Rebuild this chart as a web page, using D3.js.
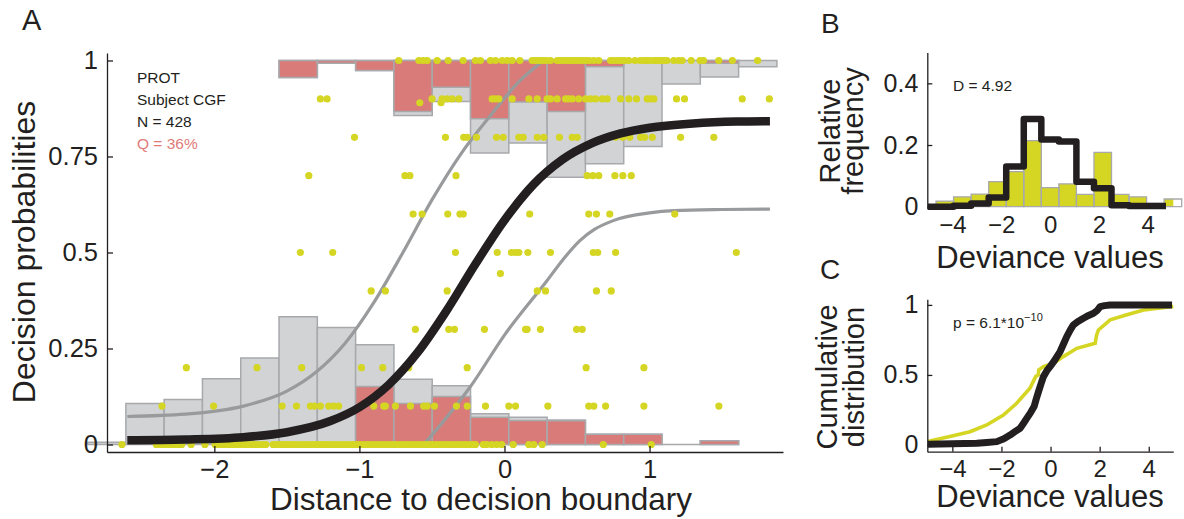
<!DOCTYPE html>
<html>
<head>
<meta charset="utf-8">
<script src="https://cdn.jsdelivr.net/npm/d3@7"></script>
<style>
  body { margin: 0; background: #fff; }
  svg { display: block; }
  text { font-family: "Liberation Sans", Arial, Helvetica, sans-serif; fill: #231f20; }
</style>
</head>
<body>
<svg id="fig" width="1184" height="519"></svg>
<script>
// ---------------- Panel A: decision probabilities ----------------
// histogram bin edges (distance to boundary)
const binEdges = [-2.874, -2.61, -2.346, -2.082, -1.818, -1.554, -1.29, -1.026, -0.762,
                  -0.498, -0.234, 0.03, 0.294, 0.558, 0.822, 1.086, 1.35, 1.614, 1.878];
// bars rising from 0 (grey = all trials, red = subset)
const bottomTotal = [0.006, 0.107, 0.117, 0.171, 0.225, 0.333, 0.305, 0.26, 0.17, 0.153,
                     0.08, 0.071, 0.064, 0.027, 0.027, 0, 0.01, null];
const bottomRed   = [0, 0, 0, 0, 0, 0, 0, 0.151, 0.107, 0.125, 0.071, 0.0625, 0.062, 0.027,
                     0.027, 0, 0.01, 0];
// bars hanging from 1 (depth below 1)
const topTotal = [0, 0, 0, 0, 0, 0.044, 0.007, 0.026, 0.143, 0.107, 0.241, 0.215, 0.304,
                  0.269, 0.224, 0.061, 0.043, 0.016];
const topRed   = [0, 0, 0, 0, 0, 0.044, 0.007, 0.026, 0.133, 0.07, 0.152, 0.108, 0.133,
                  0.016, 0, 0, 0.007, 0];

// fitted psychometric curves
const fitX = [-2.6, -2.2, -1.8, -1.5, -1.2, -1.0, -0.8, -0.6, -0.4, -0.2, 0, 0.2, 0.4, 0.6,
              0.8, 1.0, 1.3, 1.6, 1.83];
const fitY = [0.011, 0.013, 0.019, 0.032, 0.061, 0.097, 0.155, 0.239, 0.348, 0.47, 0.584,
              0.677, 0.742, 0.784, 0.81, 0.825, 0.836, 0.841, 0.842];
const upperX = [-2.6, -2.2, -1.8, -1.5, -1.3, -1.1, -0.9, -0.7, -0.5, -0.3, -0.1, 0.1, 0.27];
const upperY = [0.073, 0.079, 0.1, 0.139, 0.188, 0.263, 0.37, 0.5, 0.637, 0.757, 0.855,
                0.945, 1.0];
const lowerX = [-0.556, -0.4, -0.238, 0.0, 0.294, 0.4, 0.52, 0.62, 0.75, 1.0, 1.167, 1.5, 1.83];
const lowerY = [0.0, 0.07, 0.149, 0.285, 0.427, 0.48, 0.531, 0.56, 0.583, 0.603, 0.609,
                0.612, 0.613];

// individual observations, grouped by response level
const dots0 = [-2.637, -2.4, -2.375, -2.35, -2.325, -2.3, -2.275, -2.25, -2.225, -2.16, -2.065,
  -1.995, -1.97, -1.945, -1.92, -1.895, -1.87, -1.845, -1.82, -1.795, -1.77, -1.745, -1.72,
  -1.695, -1.67, -1.645, -1.595, -1.57, -1.545, -1.52, -1.495, -1.47, -1.445, -1.42, -1.395,
  -1.37, -1.345, -1.32, -1.295, -1.27, -1.245, -1.22, -1.195, -1.17, -1.145, -1.12, -1.095,
  -1.07, -1.045, -1.02, -0.995, -0.97, -0.945, -0.92, -0.895, -0.87, -0.845, -0.82, -0.795,
  -0.77, -0.745, -0.72, -0.695, -0.67, -0.645, -0.62, -0.595, -0.57, -0.545, -0.52, -0.495,
  -0.47, -0.445, -0.42, -0.395, -0.37, -0.345, -0.32, -0.295, -0.27, -0.245, -0.22, -0.2,
  -0.146, -0.123, -0.088, -0.054, -0.019, 0.06, 0.168, 0.202, 0.26, 0.681, 1.012];
const dots10 = [-2.361, -2.005, -1.533, -1.434, -1.338, -1.31, -1.269, -1.212, -1.177, -1.143,
  -0.993, -0.901, -0.832, -0.821, -0.752, -0.648, -0.557, -0.533, -0.483, -0.331, -0.257,
  -0.131, 0.03, 0.076, 0.299, 0.581, 0.616, 0.697, 0.961, 1.478];
const dots20 = [-2.193, -1.706, -1.398, -0.986, -0.839, -0.66, -0.257, 0.563, 0.961];
const dots30 = [-0.614, -0.384, -0.345, -0.138, 0.145, 0.156, 0.248, 0.497, 0.536];
const dots40 = [-0.919, -0.821, -0.395, 0.226, 0.283, 0.634, 0.736];
const dots44 = [-0.028];
const dots50 = [-1.407, -1.184, -0.338, -0.05, 0.048, 0.076, 0.099, 0.161, 0.317, 0.612,
  0.643, 0.766, 1.598];
const dots60 = [-0.63, -0.568, -0.391, -0.307, -0.284, 0.174, 0.581, 0.634, 0.726, 1.174];
const dots70 = [-1.349, -0.686, -0.652, -0.334, 0.57, 0.609, 0.65, 0.761, 0.816, 0.874];
const dots80 = [-1.034, -0.407, -0.281, -0.257, -0.193, -0.055, -0.009, 0.099, 0.129, 0.226,
  0.271, 0.379, 0.467, 0.501, 0.766, 0.816, 0.864, 0.938, 0.966, 1.019, 1.214, 1.443];
const dots89 = [-0.584, -0.437];
const dots90 = [-1.269, -1.223, -0.499, -0.43, -0.395, -0.361, -0.315, -0.085, -0.062, -0.039,
  0.053, 0.168, 0.226, 0.294, 0.317, 0.363, 0.421, 0.441, 0.467, 0.512, 0.559, 0.593, 0.628,
  0.674, 0.708, 0.8, 0.857, 0.91, 0.984, 1.007, 1.03, 1.186, 1.241, 1.639, 1.826];
const dots100 = [-0.729, -0.59, -0.561, -0.533, -0.464, -0.388, -0.285, -0.2, -0.166, -0.097,
  -0.062, -0.016, 0.019, 0.053, 0.106, 0.191, 0.21, 0.23, 0.25, 0.27, 0.29, 0.317, 0.363,
  0.38, 0.4, 0.42, 0.44, 0.455, 0.47, 0.49, 0.51, 0.524, 0.547, 0.565, 0.585, 0.616, 0.65,
  0.731, 0.75, 0.77, 0.79, 0.81, 0.83, 0.857, 0.9, 0.935, 0.96, 0.98, 1.0, 1.028, 1.045,
  1.062, 1.08, 1.1, 1.12, 1.167, 1.2, 1.225, 1.287, 1.348, 1.372, 1.477, 1.571, 1.745];
const dotGroups = [[0, dots0], [0.1, dots10], [0.2, dots20], [0.3, dots30], [0.4, dots40],
  [0.445, dots44], [0.5, dots50], [0.6, dots60], [0.7, dots70], [0.8, dots80], [0.89, dots89],
  [0.9, dots90], [1, dots100]];

const ticksAY = [0, 0.25, 0.5, 0.75, 1];
const ticksAX = [-2, -1, 0, 1];
const infoLines = ["PROT", "Subject CGF", "N = 428", "Q = 36%"];

// ---------------- Panel B: deviance histogram ----------------
const devEdges = [-4.672, -3.953, -3.234, -2.515, -1.796, -1.077, -0.358, 0.361, 1.08, 1.799,
                  2.518, 3.237, 3.956, 4.675, 5.394];
const devObserved = [0.018, 0.032, 0.041, 0.081, 0.114, 0.214, 0.062, 0.074, 0.04, 0.176,
                     0.04, 0.032, 0.011, 0.025];
const devModel = [0.0, 0.003, 0.01, 0.03, 0.13, 0.284, 0.218, 0.211, 0.081, 0.06, 0.005,
                  0.002, 0.002, 0.002];
const ticksBY = [0, 0.2, 0.4];
const ticksDev = [-4, -2, 0, 2, 4];

// ---------------- Panel C: cumulative distributions ----------------
const cdfModelX = [-5.0, -3.0, -2.6, -2.19, -1.9, -1.65, -1.45, -1.24, -1.1, -0.97, -0.8,
  -0.67, -0.58, -0.49, -0.4, -0.29, -0.15, -0.02, 0.15, 0.39, 0.5, 0.66, 0.8, 0.93, 1.1, 1.34,
  1.55, 1.75, 1.9, 2.02, 2.2, 2.43, 4.95];
const cdfModelY = [0.005, 0.012, 0.018, 0.024, 0.045, 0.071, 0.095, 0.119, 0.155, 0.19,
  0.235, 0.274, 0.33, 0.381, 0.43, 0.488, 0.53, 0.56, 0.6, 0.667, 0.71, 0.774, 0.82, 0.857,
  0.88, 0.905, 0.925, 0.94, 0.96, 0.988, 0.995, 1.0, 1.0];
const cdfDataX = [-5.0, -4.1, -3.28, -2.6, -1.92, -1.38, -0.84, -0.6, -0.5, -0.48, -0.29, 0.12,
  0.52, 1.07, 1.82, 1.87, 1.95, 2.43, 3.11, 3.79, 5.0];
const cdfDataY = [0.024, 0.06, 0.095, 0.143, 0.214, 0.298, 0.405, 0.49, 0.5, 0.536, 0.56,
  0.583, 0.631, 0.69, 0.726, 0.78, 0.821, 0.893, 0.929, 0.964, 0.988];
const ticksCY = [0, 0.5, 1];

// ---------------- drawing ----------------
const ink = "#231f20";
const red = "#d97b78";
const grey = "#d1d3d4";
const greyEdge = "#a7a9ac";
const yellow = "#d5d523";
const curveGrey = "#999a9c";

const svg = d3.select("#fig");
const fmt = d3.format("");
const minus = v => String(v).replace("-", "\u2212");

function boxPath(x0, x1, y0, y1) {
  return `M${x0},${y0}H${x1}V${y1}H${x0}Z`;
}
function styleAxis(g, size) {
  g.selectAll("path.domain").attr("stroke", ink).attr("stroke-width", 1.3);
  g.selectAll(".tick line").attr("stroke", ink).attr("stroke-width", 1.3);
  g.selectAll(".tick text").attr("font-size", size).attr("fill", ink)
    .attr("font-family", '"Liberation Sans", Arial, Helvetica, sans-serif');
}

// ---- Panel A ----
const xA = d3.scaleLinear().domain([-2.74, 1.92]).range([107, 783]);
const yA = d3.scaleLinear().domain([-0.0195, 1.0195]).range([452, 53]);
const gA = svg.append("g");

const bins = binEdges.slice(0, -1).map((e, i) => ({
  x0: e, x1: binEdges[i + 1],
  bt: bottomTotal[i], br: bottomRed[i], tt: topTotal[i], tr: topRed[i]
}));

const barLayer = gA.append("g").attr("stroke", greyEdge).attr("stroke-width", 1.5);
// grey totals first, red subsets on top
barLayer.selectAll("path.bt").data(bins.filter(b => b.bt !== null)).join("path")
  .attr("d", b => boxPath(xA(b.x0), xA(b.x1), yA(0), yA(b.bt)))
  .attr("fill", grey);
barLayer.selectAll("path.tt").data(bins.filter(b => b.tt > 0)).join("path")
  .attr("class", "tt")
  .attr("d", b => boxPath(xA(b.x0), xA(b.x1), yA(1), yA(1 - b.tt)))
  .attr("fill", grey);
barLayer.selectAll("path.br").data(bins.filter(b => b.br > 0)).join("path")
  .attr("class", "br")
  .attr("d", b => boxPath(xA(b.x0), xA(b.x1), yA(0), yA(b.br)))
  .attr("fill", red);
barLayer.selectAll("path.tr").data(bins.filter(b => b.tr > 0)).join("path")
  .attr("class", "tr")
  .attr("d", b => boxPath(xA(b.x0), xA(b.x1), yA(1), yA(1 - b.tr)))
  .attr("fill", red);

const lineA = d3.line().x(d => xA(d[0])).y(d => yA(d[1])).curve(d3.curveMonotoneX);
gA.append("path").attr("d", lineA(d3.zip(upperX, upperY)))
  .attr("fill", "none").attr("stroke", curveGrey).attr("stroke-width", 3.2);
gA.append("path").attr("d", lineA(d3.zip(lowerX, lowerY)))
  .attr("fill", "none").attr("stroke", curveGrey).attr("stroke-width", 3.2);

const dotData = dotGroups.flatMap(([lvl, xs]) => xs.map(x => [x, lvl]));
gA.append("g").selectAll("circle").data(dotData).join("circle")
  .attr("cx", d => xA(d[0])).attr("cy", d => yA(d[1])).attr("r", 3.6)
  .attr("fill", yellow);

gA.append("path").attr("d", lineA(d3.zip(fitX, fitY)))
  .attr("fill", "none").attr("stroke", ink).attr("stroke-width", 8.5)
  .attr("stroke-linecap", "butt");

const axAy = gA.append("g").attr("transform", `translate(${xA.range()[0]},0)`)
  .call(d3.axisLeft(yA).tickValues(ticksAY).tickFormat(fmt)
    .tickSizeInner(-6).tickSizeOuter(0).tickPadding(9));
styleAxis(axAy, 25.5);
const axAx = gA.append("g").attr("transform", `translate(0,${yA.range()[0]})`)
  .call(d3.axisBottom(xA).tickValues(ticksAX).tickFormat(minus)
    .tickSizeInner(-6).tickSizeOuter(0).tickPadding(8));
styleAxis(axAx, 25.5);

gA.append("text").attr("x", 481).attr("y", 510).attr("text-anchor", "middle")
  .attr("font-size", 31.5).text("Distance to decision boundary");
gA.append("text").attr("transform", "translate(35,252) rotate(-90)")
  .attr("text-anchor", "middle").attr("font-size", 32).text("Decision probabilities");
gA.append("text").attr("x", 22).attr("y", 30).attr("font-size", 29).text("A");

gA.append("g").selectAll("text").data(infoLines).join("text")
  .attr("x", 137).attr("y", (d, i) => 82.5 + i * 22.2)
  .attr("font-size", 15.5)
  .style("fill", (d, i) => i === 3 ? "#e07b78" : ink)
  .text(d => d);

// ---- Panel B ----
const xB = d3.scaleLinear().domain([-5.03, 5.05]).range([927.3, 1173.3]);
const yB = d3.scaleLinear().domain([-0.0075, 0.5]).range([209, 52.5]);
const gB = svg.append("g");
const devBins = devEdges.slice(0, -1).map((e, i) => ({ x0: e, x1: devEdges[i + 1], v: devObserved[i] }));
const xEnd = xB.domain()[1];

gB.append("g").selectAll("rect").data(devBins).join("rect")
  .attr("x", d => xB(d.x0))
  .attr("width", d => xB(Math.min(d.x1, xEnd)) - xB(d.x0))
  .attr("y", d => yB(d.v)).attr("height", d => yB(0) - yB(d.v))
  .attr("fill", yellow);
gB.append("g").selectAll("path").data(devBins).join("path")
  .attr("d", d => boxPath(xB(d.x0), xB(d.x1), yB(0), yB(d.v)))
  .attr("fill", "none").attr("stroke", greyEdge).attr("stroke-width", 1.3);

const stepPts = [[-5.0, devModel[0]]]
  .concat(devModel.map((v, i) => [devEdges[i], v]))
  .concat([[4.75, devModel[devModel.length - 1]]]);
gB.append("path")
  .attr("d", d3.line().x(d => xB(d[0])).y(d => yB(d[1])).curve(d3.curveStepAfter)(stepPts))
  .attr("fill", "none").attr("stroke", ink).attr("stroke-width", 6.5)
  .attr("stroke-linejoin", "round");

const axBy = gB.append("g").attr("transform", `translate(${xB.range()[0]},0)`)
  .call(d3.axisLeft(yB).tickValues(ticksBY).tickFormat(fmt)
    .tickSizeInner(-5).tickSizeOuter(0).tickPadding(9));
styleAxis(axBy, 25);
const axBx = gB.append("g").attr("transform", `translate(0,${yB.range()[0]})`)
  .call(d3.axisBottom(xB).tickValues(ticksDev).tickFormat(minus)
    .tickSize(0).tickPadding(7));
styleAxis(axBx, 24);
axBx.select("path.domain").remove();

gB.append("text").attr("x", 1050).attr("y", 268).attr("text-anchor", "middle")
  .attr("font-size", 31).text("Deviance values");
gB.append("text").attr("transform", "translate(840,131) rotate(-90)")
  .attr("text-anchor", "middle").attr("font-size", 29).text("Relative");
gB.append("text").attr("transform", "translate(863,131) rotate(-90)")
  .attr("text-anchor", "middle").attr("font-size", 29).text("frequency");
gB.append("text").attr("x", 821).attr("y", 33).attr("font-size", 28).text("B");
gB.append("text").attr("x", 953).attr("y", 90.5).attr("font-size", 15.5).text("D = 4.92");

// ---- Panel C ----
const xC = d3.scaleLinear().domain([-5.02, 5.0]).range([927.3, 1173.3]);
const yC = d3.scaleLinear().domain([-0.048, 1.04]).range([451.7, 299.3]);
const gC = svg.append("g");
const lineC = d3.line().x(d => xC(d[0])).y(d => yC(d[1]));

gC.append("path").attr("d", lineC(d3.zip(cdfDataX, cdfDataY)))
  .attr("fill", "none").attr("stroke", yellow).attr("stroke-width", 3.6);
gC.append("path").attr("d", lineC(d3.zip(cdfModelX, cdfModelY)))
  .attr("fill", "none").attr("stroke", ink).attr("stroke-width", 7)
  .attr("stroke-linejoin", "round");

const axCy = gC.append("g").attr("transform", `translate(${xC.range()[0]},0)`)
  .call(d3.axisLeft(yC).tickValues(ticksCY).tickFormat(fmt)
    .tickSizeInner(-5).tickSizeOuter(0).tickPadding(9));
styleAxis(axCy, 25);
const axCx = gC.append("g").attr("transform", `translate(0,${yC.range()[0]})`)
  .call(d3.axisBottom(xC).tickValues(ticksDev).tickFormat(minus)
    .tickSizeInner(-5).tickSizeOuter(0).tickPadding(8));
styleAxis(axCx, 24);

gC.append("text").attr("x", 1050).attr("y", 507).attr("text-anchor", "middle")
  .attr("font-size", 31).text("Deviance values");
gC.append("text").attr("transform", "translate(837,377) rotate(-90)")
  .attr("text-anchor", "middle").attr("font-size", 29).text("Cumulative");
gC.append("text").attr("transform", "translate(864,377) rotate(-90)")
  .attr("text-anchor", "middle").attr("font-size", 29).text("distribution");
gC.append("text").attr("x", 820).attr("y", 279).attr("font-size", 28).text("C");
const pText = gC.append("text").attr("x", 953).attr("y", 328).attr("font-size", 15.5);
pText.append("tspan").text("p = 6.1*10");
pText.append("tspan").attr("dy", -7).attr("font-size", 11).text("\u221210");
</script>
</body>
</html>
